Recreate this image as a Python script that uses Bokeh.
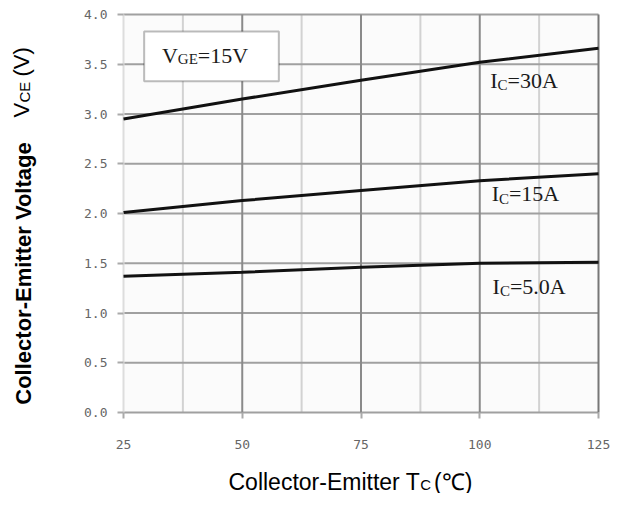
import math
from bokeh.plotting import figure
from bokeh.models import Range1d, FixedTicker, NumeralTickFormatter, Label, BoxAnnotation
from bokeh.embed import file_html
from bokeh.resources import INLINE

# ---- data ----
temps = [25, 50, 75, 100, 125]
vce_30a = [2.95, 3.15, 3.34, 3.52, 3.66]
vce_15a = [2.01, 2.13, 2.23, 2.33, 2.40]
vce_5a = [1.37, 1.41, 1.46, 1.50, 1.51]

x_ticks = [25, 50, 75, 100, 125]
x_minor = [37.5, 62.5, 87.5, 112.5]
y_ticks = [0.0, 0.5, 1.0, 1.5, 2.0, 2.5, 3.0, 3.5, 4.0]

curve_names = ["=30A", "=15A", "=5.0A"]
curve_label_x = [102.2, 102.5, 102.7]
curve_label_y = [3.34, 2.20, 1.27]

SERIF = "Liberation Serif"
SANS = "Liberation Sans"

# ---- layout: the plot frame fills the canvas, axes sit at fixed locations ----
W, H = 611, 493
PX_LEFT, PX_RIGHT, PX_TOP, PX_BOTTOM = 123, 598, 14, 412   # chart box in canvas pixels
x0, x1 = x_ticks[0], x_ticks[-1]
y0, y1 = y_ticks[0], y_ticks[-1]
sx = (PX_RIGHT - PX_LEFT) / (x1 - x0)
sy = (PX_BOTTOM - PX_TOP) / (y1 - y0)
xr = Range1d(x0 - PX_LEFT / sx, x1 + (W - PX_RIGHT) / sx)
yr = Range1d(y0 - (H - PX_BOTTOM) / sy, y1 + PX_TOP / sy)

p = figure(width=W, height=H, output_backend="svg", toolbar_location=None,
           x_range=xr, y_range=yr,
           min_border_left=0, min_border_right=0, min_border_top=0, min_border_bottom=0)
p.background_fill_color = "white"
p.border_fill_color = "white"
p.outline_line_color = None
p.xgrid.visible = False
p.ygrid.visible = False

# chart area background
p.add_layout(BoxAnnotation(left=x0, right=x1, bottom=y0, top=y1, fill_color="#fbfbfb",
                           fill_alpha=1.0, line_color=None, level="underlay"))

# axes
p.xaxis.fixed_location = y0
p.yaxis.fixed_location = x0
p.xaxis.bounds = (x0, x1)
p.yaxis.bounds = (y0, y1)
p.xaxis.ticker = FixedTicker(ticks=x_ticks)
p.yaxis.ticker = FixedTicker(ticks=y_ticks)
p.yaxis.formatter = NumeralTickFormatter(format="0.0")
for ax in (p.xaxis, p.yaxis):
    ax.axis_line_color = None
    ax.major_tick_line_color = "#aaaaaa"
    ax.major_tick_line_width = 2
    ax.major_tick_out = 6
    ax.major_tick_in = 0
    ax.minor_tick_line_color = None
    ax.major_label_text_font = "DejaVu Sans Mono"
    ax.major_label_text_font_size = "13px"
    ax.major_label_text_color = "#666666"
p.xaxis.major_label_standoff = 21
p.yaxis.major_label_standoff = 10

# grid lines (limited to the chart box)
p.segment(x0=x_minor, x1=x_minor, y0=[y0] * len(x_minor), y1=[y1] * len(x_minor),
          line_color="#d2d2d2", line_width=2)
p.segment(x0=[x0] * len(y_ticks), x1=[x1] * len(y_ticks), y0=y_ticks, y1=y_ticks,
          line_color="#a0a0a0", line_width=2)
inner = x_ticks[1:-1]
p.segment(x0=inner, x1=inner, y0=[y0] * len(inner), y1=[y1] * len(inner),
          line_color="#8a8a8a", line_width=2)
p.segment(x0=[x0], x1=[x0], y0=[y0], y1=[y1], line_color="#dddddd", line_width=2)
p.segment(x0=[x1], x1=[x1], y0=[y0], y1=[y1], line_color="#777777", line_width=2)

# curves
for ys in (vce_30a, vce_15a, vce_5a):
    p.line(temps, ys, line_color="#111111", line_width=3)

def txt(x, y, text, size, font=SERIF, xo=0, yo=0, units="data", angle=0, style="normal",
        align="left", baseline="alphabetic", color="#1a1a1a", level="overlay"):
    p.add_layout(Label(x=x, y=y, x_units=units, y_units=units, x_offset=xo, y_offset=yo,
                       text=text, text_font=font, text_font_size=f"{size}px",
                       text_font_style=style, text_color=color, angle=angle,
                       text_align=align, text_baseline=baseline, level=level))

# curve labels I_C=...
main_sz, sub_sz = 22, 15
for name, lx, ly in zip(curve_names, curve_label_x, curve_label_y):
    txt(lx, ly, "I", main_sz)
    txt(lx, ly, "C", sub_sz, xo=0.333 * main_sz, yo=-5)
    txt(lx, ly, name, main_sz, xo=0.333 * main_sz + 0.667 * sub_sz)

# V_GE=15V box
p.add_layout(BoxAnnotation(left=29.35, right=57.7, bottom=3.33, top=3.83,
                           fill_color="white", fill_alpha=1.0,
                           line_color="#222222", line_width=2, level="annotation"))
bx, by = 33.1, 3.59
box_sz, box_sub = 22, 15
txt(bx, by, "V", box_sz)
txt(bx, by, "GE", box_sub, xo=0.722 * box_sz, yo=-4)
txt(bx, by, "=15V", box_sz, xo=0.722 * box_sz + (0.722 + 0.611) * box_sub)

# axis titles (screen units = canvas pixels from the bottom-left corner)
half_pi = math.pi / 2
txt(23, H - 273, "Collector-Emitter Voltage", 22, font=SANS, units="screen", angle=half_pi,
    style="bold", align="center", baseline="middle", color="#000000")
vy = H - 117
txt(21, vy, "V", 22, font=SANS, units="screen", angle=half_pi, color="#000000")
txt(24, vy + 15, "CE", 15, font=SANS, units="screen", angle=half_pi, color="#000000")
txt(21, vy + 41, "(V)", 22, font=SANS, units="screen", angle=half_pi, color="#000000")

xl0, xb = 228, H - 481
txt(xl0, xb, "Collector-Emitter T", 23, font=SANS, units="screen", color="#000000")
txt(xl0, xb, "C", 15, font=SANS, units="screen", xo=8.334 * 23, yo=-3, color="#000000")
txt(xl0, xb, "(℃)", 23, font=SANS, units="screen", xo=8.334 * 23 + 0.722 * 15 + 3, color="#000000")

open("out.html", "w").write(file_html(p, INLINE))
